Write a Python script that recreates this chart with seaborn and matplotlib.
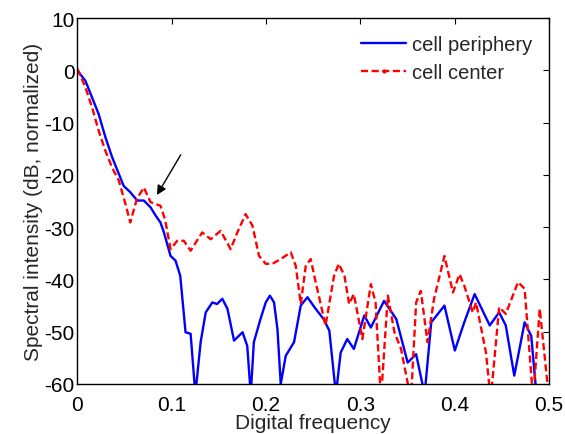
import matplotlib
matplotlib.use("Agg")
import matplotlib.pyplot as plt
from matplotlib.lines import Line2D
import seaborn as sns

# cell periphery (blue, solid)
freq_periphery = [0.0, 0.0085, 0.0156, 0.0226, 0.0297, 0.0368, 0.0439, 0.049,
                  0.056, 0.0634, 0.0704, 0.0775, 0.083, 0.088, 0.0917, 0.0987,
                  0.104, 0.109, 0.1146, 0.120, 0.125, 0.1306, 0.136, 0.143,
                  0.148, 0.1536, 0.159, 0.166, 0.175, 0.180, 0.1837, 0.187,
                  0.194, 0.1996, 0.204, 0.2084, 0.212, 0.2155, 0.2208, 0.2296,
                  0.2367, 0.2438, 0.252, 0.261, 0.267, 0.274, 0.279, 0.286,
                  0.293, 0.304, 0.311, 0.325, 0.338, 0.350, 0.359, 0.368,
                  0.375, 0.389, 0.400, 0.410, 0.421, 0.437, 0.447, 0.454,
                  0.463, 0.474, 0.481, 0.487, 0.50]
db_periphery = [0.0, -2.0, -5.2, -8.4, -12.8, -16.6, -19.8, -22.1,
                -23.3, -24.9, -24.9, -26.2, -27.8, -29.1, -31.0, -35.5,
                -36.4, -39.3, -50.1, -50.4, -62.0, -52.0, -46.3, -44.4,
                -44.7, -43.7, -45.6, -51.7, -50.1, -52.7, -62.0, -52.0,
                -47.6, -44.4, -43.1, -44.4, -49.5, -60.0, -54.6, -52.0,
                -45.0, -43.4, -45.5, -47.6, -49.8, -62.0, -54.0, -51.4,
                -53.3, -46.9, -49.2, -44.1, -47.6, -55.9, -54.3, -62.0,
                -48.2, -45.0, -53.6, -48.2, -42.8, -48.8, -46.3, -48.8,
                -58.4, -48.2, -50.8, -63.0, -66.0]

# cell center (red, dashed)
freq_center = [0.0, 0.0085, 0.0156, 0.0226, 0.0297, 0.0368, 0.0439, 0.051,
               0.056, 0.063, 0.0704, 0.0775, 0.088, 0.093, 0.0987, 0.1058,
               0.1128, 0.120, 0.1323, 0.1412, 0.1518, 0.1624, 0.1695, 0.1783,
               0.1855, 0.1925, 0.1996, 0.2067, 0.2155, 0.2261, 0.2314, 0.2367,
               0.242, 0.2473, 0.251, 0.263, 0.272, 0.277, 0.283, 0.288,
               0.293, 0.302, 0.311, 0.316, 0.3217, 0.329, 0.336, 0.343,
               0.3535, 0.359, 0.364, 0.371, 0.378, 0.389, 0.398, 0.405,
               0.410, 0.419, 0.4225, 0.433, 0.438, 0.447, 0.454, 0.467,
               0.474, 0.483, 0.490, 0.4985]
db_center = [0.3, -3.25, -7.1, -11.6, -15.4, -18.6, -21.1, -25.6,
             -29.1, -24.6, -22.4, -25.2, -25.9, -28.6, -34.2, -32.6,
             -32.6, -34.5, -31.0, -32.3, -30.7, -34.2, -31.0, -27.5,
             -29.7, -35.5, -37.0, -37.0, -36.1, -34.8, -37.4, -44.7,
             -37.4, -36.1, -39.3, -48.8, -39.3, -37.0, -39.3, -44.7,
             -42.8, -51.4, -40.9, -44.4, -63.0, -43.1, -50.1, -53.3,
             -63.0, -44.4, -42.2, -52.0, -43.7, -35.5, -42.5, -39.0,
             -41.2, -46.3, -44.4, -54.0, -63.0, -45.3, -46.6, -40.5,
             -41.8, -63.0, -45.6, -60.5]

x_ticks = [0, 0.1, 0.2, 0.3, 0.4, 0.5]
x_tick_labels = ["0", "0.1", "0.2", "0.3", "0.4", "0.5"]
y_ticks = [10, 0, -10, -20, -30, -40, -50, -60]

sns.set_theme(style="white")
plt.rcParams["font.family"] = ["Liberation Sans", "DejaVu Sans"]
plt.rcParams["axes.unicode_minus"] = False

fig = plt.figure(figsize=(5.65, 4.35), dpi=100)
ax = fig.add_axes([0.137, 0.115, 0.835, 0.841])

sns.lineplot(x=freq_periphery, y=db_periphery, ax=ax, color="#0000ff",
             linewidth=1.7, estimator=None, sort=False)
sns.lineplot(x=freq_center, y=db_center, ax=ax, color="#ff0000",
             linewidth=1.7, estimator=None, sort=False, linestyle=(0, (3, 1.5)))

ax.set_xlim(0, 0.5)
ax.set_ylim(-60, 10)
ax.set_xticks(x_ticks)
ax.set_xticklabels(x_tick_labels)
ax.set_yticks(y_ticks)
ax.tick_params(direction="in", length=4, width=0.8, top=True, right=True,
               labelsize=15, colors="black", pad=2)
ax.tick_params(axis="x", pad=8)
for s in ax.spines.values():
    s.set_color("black")
    s.set_linewidth(1.0)

ax.set_xlabel("Digital frequency", fontsize=15, labelpad=-1)
ax.set_ylabel("Spectral intensity (dB, normalized)", fontsize=15, labelpad=1)

ax.annotate("", xy=(0.0828, -24.3), xytext=(0.111, -15.7),
            arrowprops=dict(arrowstyle="-|>", color="black", lw=1.0,
                            mutation_scale=14))

handles = [Line2D([], [], color="#0000ff", linewidth=1.7),
           Line2D([], [], color="#ff0000", linewidth=1.7, linestyle=(0, (3, 1.5)),
                  marker=".", markersize=4, markevery=[1])]
ax.legend(handles, ["cell periphery", "cell center"], loc="upper right",
          frameon=False, handlelength=2.2, handletextpad=0.3,
          labelspacing=0.45, borderaxespad=0.55, borderpad=0.3,
          prop={"size": 14.5})

fig.savefig("out.png", dpi=100)
